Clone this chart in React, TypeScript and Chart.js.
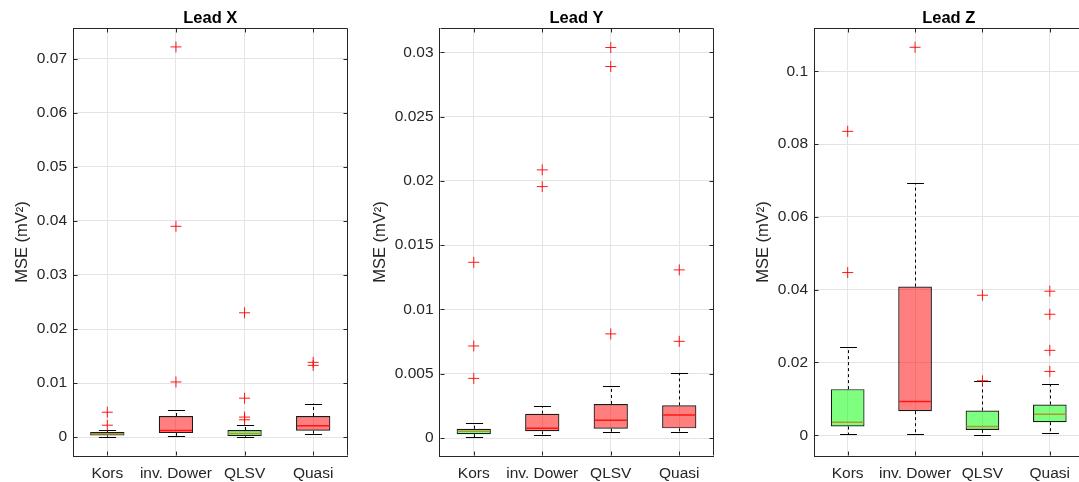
import React, { useEffect, useRef } from "react";
import { Chart, registerables } from "chart.js";

Chart.register(...registerables);

// ---------- DATA ----------
const categories = ["Kors", "inv. Dower", "QLSV", "Quasi"];

// Lead X
const leadXQ1 = [0.0003, 0.00074, 0.00018, 0.00117];
const leadXMedian = [0.0006, 0.0012, 0.00067, 0.0021];
const leadXQ3 = [0.00093, 0.0039, 0.0013, 0.0039];
const leadXLow = [0.00005, 0.00024, 0.00005, 0.00055];
const leadXHigh = [0.0013, 0.005, 0.0022, 0.0062];
const leadXOutliers = [
  [0.0046, 0.0022],
  [0.0722, 0.039, 0.0102],
  [0.023, 0.0072, 0.0037, 0.0032],
  [0.01383, 0.01327],
];
const leadXTicks = [0, 0.01, 0.02, 0.03, 0.04, 0.05, 0.06, 0.07];

// Lead Y
const leadYQ1 = [0.00029, 0.00052, 0.00072, 0.00075];
const leadYMedian = [0.00052, 0.00075, 0.00138, 0.00179];
const leadYQ3 = [0.00072, 0.00189, 0.00265, 0.00254];
const leadYLow = [0.00005, 0.00026, 0.00044, 0.00047];
const leadYHigh = [0.00114, 0.00247, 0.00405, 0.00506];
const leadYOutliers = [
  [0.01367, 0.00716, 0.00464],
  [0.02086, 0.01956],
  [0.03038, 0.0289, 0.0081],
  [0.01308, 0.00752],
];
const leadYTicks = [0, 0.005, 0.01, 0.015, 0.02, 0.025, 0.03];

// Lead Z
const leadZQ1 = [0.00239, 0.00661, 0.00147, 0.00358];
const leadZMedian = [0.00358, 0.00927, 0.00239, 0.00578];
const leadZQ3 = [0.01267, 0.04086, 0.0068, 0.00845];
const leadZLow = [0.00028, 0.00046, 0.00018, 0.00055];
const leadZHigh = [0.02415, 0.06924, 0.01478, 0.01404];
const leadZOutliers = [
  [0.0835, 0.0447],
  [0.1066],
  [0.03847, 0.01497],
  [0.03958, 0.03324, 0.02333, 0.01754],
];
const leadZTicks = [0, 0.02, 0.04, 0.06, 0.08, 0.1];

// ---------- STYLE ----------
const FONT = "'Liberation Sans', Arial, Helvetica, sans-serif";
const AXIS_COLOR = "#262626";
const GRID_COLOR = "#e4e4e4";
const GREEN = "rgba(0,255,0,0.5)";
const RED = "rgba(255,0,0,0.5)";
const GREEN_MED = "rgb(175,150,50)";
const RED_MED = "rgb(255,20,20)";

const leadXGroups = ["g", "r", "g", "r"];
const leadYGroups = ["g", "r", "r", "r"];
const leadZGroups = ["g", "r", "g", "g"];

type Panel = {
  title: string;
  q1: number[];
  med: number[];
  q3: number[];
  low: number[];
  high: number[];
  outliers: number[][];
  ticks: number[];
  groups: string[];
  min: number;
  max: number;
  left: number;
  width: number;
  yWidth: number;
  padRight: number;
  titlePad: number;
};

const panels: Panel[] = [
  {
    title: "Lead X", q1: leadXQ1, med: leadXMedian, q3: leadXQ3, low: leadXLow, high: leadXHigh,
    outliers: leadXOutliers, ticks: leadXTicks, groups: leadXGroups,
    min: -0.0035, max: 0.0757, left: 0, width: 356, yWidth: 73, padRight: 8.5, titlePad: 12.6,
  },
  {
    title: "Lead Y", q1: leadYQ1, med: leadYMedian, q3: leadYQ3, low: leadYLow, high: leadYHigh,
    outliers: leadYOutliers, ticks: leadYTicks, groups: leadYGroups,
    min: -0.0014, max: 0.0319, left: 360, width: 360, yWidth: 79.5, padRight: 2.5, titlePad: 10.4,
  },
  {
    title: "Lead Z", q1: leadZQ1, med: leadZMedian, q3: leadZQ3, low: leadZLow, high: leadZHigh,
    outliers: leadZOutliers, ticks: leadZTicks, groups: leadZGroups,
    min: -0.0057, max: 0.1119, left: 720, width: 370, yWidth: 94, padRight: 5, titlePad: 33.8,
  },
];

const fmt = (v: number) => String(Number(Number(v).toFixed(5)));

function extrasPlugin(p: Panel) {
  return {
    id: "boxExtras",
    beforeDatasetsDraw(chart: any) {
      const ctx = chart.ctx;
      const ys = chart.scales.y;
      const meta = chart.getDatasetMeta(0);
      ctx.save();
      ctx.strokeStyle = "#000";
      ctx.lineWidth = 1;
      p.q1.forEach((_, i) => {
        const bar = meta.data[i];
        const x = Math.round(bar.x) + 0.5;
        const half = bar.width / 4;
        const yq1 = ys.getPixelForValue(p.q1[i]);
        const yq3 = ys.getPixelForValue(p.q3[i]);
        const yl = ys.getPixelForValue(p.low[i]);
        const yh = ys.getPixelForValue(p.high[i]);
        ctx.setLineDash([3, 3]);
        ctx.beginPath();
        ctx.moveTo(x, yq3);
        ctx.lineTo(x, yh);
        ctx.moveTo(x, yq1);
        ctx.lineTo(x, yl);
        ctx.stroke();
        ctx.setLineDash([]);
        ctx.beginPath();
        ctx.moveTo(x - half, Math.round(yh) + 0.5);
        ctx.lineTo(x + half, Math.round(yh) + 0.5);
        ctx.moveTo(x - half, Math.round(yl) + 0.5);
        ctx.lineTo(x + half, Math.round(yl) + 0.5);
        ctx.stroke();
      });
      ctx.restore();
    },
    afterDatasetsDraw(chart: any) {
      const ctx = chart.ctx;
      const ys = chart.scales.y;
      const xs = chart.scales.x;
      const meta = chart.getDatasetMeta(0);
      const area = chart.chartArea;
      ctx.save();
      // medians
      ctx.lineWidth = 1.5;
      p.med.forEach((m, i) => {
        const bar = meta.data[i];
        const y = ys.getPixelForValue(m);
        ctx.strokeStyle = p.groups[i] === "g" ? GREEN_MED : RED_MED;
        ctx.beginPath();
        ctx.moveTo(bar.x - bar.width / 2 + 1, y);
        ctx.lineTo(bar.x + bar.width / 2 - 1, y);
        ctx.stroke();
      });
      // frame top/right + inward ticks
      ctx.strokeStyle = AXIS_COLOR;
      ctx.lineWidth = 1;
      const L = Math.round(area.left) + 0.5;
      const R = Math.round(area.right) - 0.5;
      const T = Math.round(area.top) + 0.5;
      const B = Math.round(area.bottom) - 0.5;
      ctx.beginPath();
      ctx.moveTo(L, T);
      ctx.lineTo(R, T);
      ctx.lineTo(R, B);
      ctx.stroke();
      ctx.beginPath();
      p.ticks.forEach((t) => {
        const y = Math.round(ys.getPixelForValue(t)) + 0.5;
        ctx.moveTo(L, y);
        ctx.lineTo(L + 4, y);
        ctx.moveTo(R, y);
        ctx.lineTo(R - 4, y);
      });
      categories.forEach((_, i) => {
        const x = Math.round(xs.getPixelForValue(i)) + 0.5;
        ctx.moveTo(x, T);
        ctx.lineTo(x, T + 4);
        ctx.moveTo(x, B);
        ctx.lineTo(x, B - 4);
      });
      ctx.stroke();
      ctx.restore();
    },
  };
}

function BoxPanel({ p }: { p: Panel }) {
  const ref = useRef<HTMLCanvasElement | null>(null);
  useEffect(() => {
    if (!ref.current) return;
    const outlierPoints: { x: string; y: number }[] = [];
    p.outliers.forEach((arr, i) => arr.forEach((v) => outlierPoints.push({ x: categories[i], y: v })));
    const chart = new Chart(ref.current, {
      type: "bar",
      data: {
        labels: categories,
        datasets: [
          {
            type: "bar",
            data: p.q1.map((v, i) => [v, p.q3[i]]),
            backgroundColor: p.groups.map((g) => (g === "g" ? GREEN : RED)),
            borderColor: "#1a1a1a",
            borderWidth: 1.2,
            borderSkipped: false,
            barPercentage: 0.5,
            categoryPercentage: 1.0,
            order: 2,
          } as any,
          {
            type: "line",
            data: outlierPoints as any,
            showLine: false,
            pointStyle: "cross",
            pointRadius: 5.5,
            pointBorderWidth: 1,
            pointBorderColor: "rgba(255,0,0,0.9)",
            borderColor: "rgba(255,0,0,0.9)",
            order: 0,
          } as any,
        ],
      },
      options: {
        responsive: false,
        animation: false,
        layout: { padding: { left: 0, right: p.padRight, top: 0, bottom: 0 } },
        plugins: {
          legend: { display: false },
          tooltip: { enabled: false },
          title: {
            display: true,
            text: p.title,
            fullSize: false,
            color: "#000",
            font: { family: FONT, size: 16.5, weight: "bold" },
            padding: { top: 8.2, bottom: 0 },
          },
        },
        scales: {
          x: {
            type: "category",
            offset: true,
            grid: { offset: false, color: GRID_COLOR, drawTicks: false },
            border: { display: true, color: AXIS_COLOR },
            ticks: {
              padding: 8,
              color: AXIS_COLOR,
              font: { family: FONT, size: 15.5 },
              maxRotation: 0,
              autoSkip: false,
            },
            afterFit: (s: any) => { s.height = 26; },
          },
          y: {
            type: "linear",
            min: p.min,
            max: p.max,
            grid: { color: GRID_COLOR, drawTicks: false },
            border: { display: true, color: AXIS_COLOR },
            ticks: {
              padding: 6,
              color: AXIS_COLOR,
              font: { family: FONT, size: 15.5 },
              callback: (v: any) => fmt(v),
            },
            afterBuildTicks: (s: any) => { s.ticks = p.ticks.map((v) => ({ value: v })); },
            afterFit: (s: any) => { s.width = p.yWidth; },
            title: {
              display: true,
              text: "MSE (mV²)",
              color: AXIS_COLOR,
              font: { family: FONT, size: 16.5 },
              padding: { top: p.titlePad, bottom: 0 },
            },
          },
        },
      } as any,
      plugins: [extrasPlugin(p)],
    });
    return () => chart.destroy();
  }, [p]);
  return (
    <canvas
      ref={ref}
      width={p.width}
      height={482}
      style={{ position: "absolute", left: p.left, top: 0, width: p.width, height: 482 }}
    />
  );
}

export default function App() {
  return (
    <div
      style={{
        position: "fixed",
        left: 0,
        top: 0,
        width: 1079,
        height: 482,
        overflow: "hidden",
        background: "#fff",
      }}
    >
      {panels.map((p) => (
        <BoxPanel key={p.title} p={p} />
      ))}
    </div>
  );
}
